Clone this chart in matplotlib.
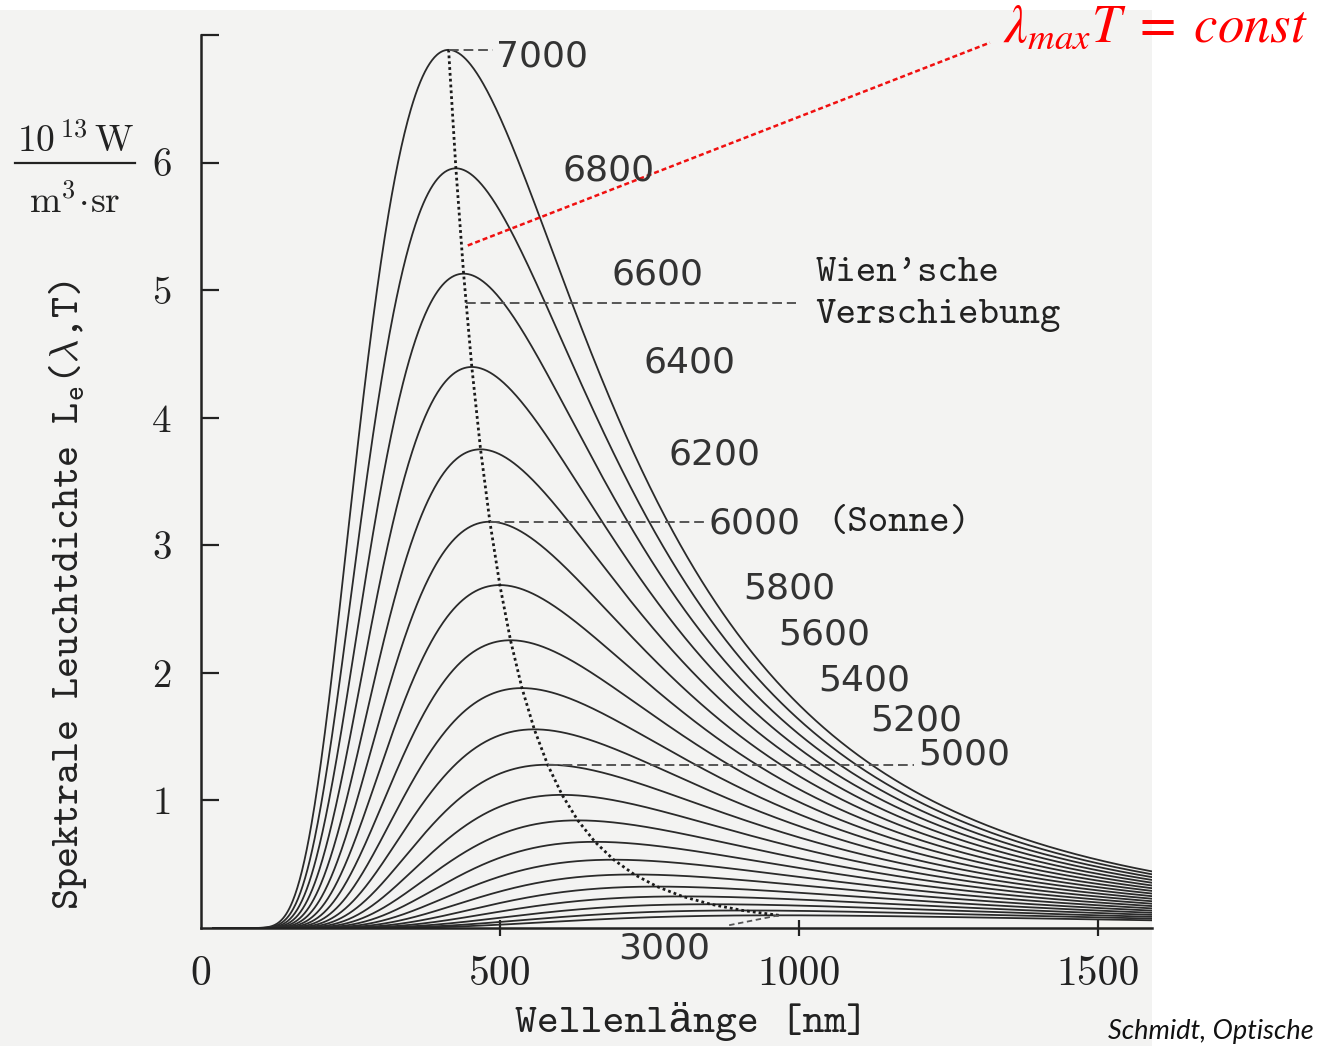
import numpy as np
import matplotlib.pyplot as plt
from matplotlib.patches import Rectangle
from matplotlib.lines import Line2D

# Temperaturen der Planck-Kurven [K]
temperaturen = [3000, 3200, 3400, 3600, 3800, 4000, 4200, 4400, 4600, 4800,
                5000, 5200, 5400, 5600, 5800, 6000, 6200, 6400, 6600, 6800, 7000]
# Kurven mit Beschriftung
beschriftet = [7000, 6800, 6600, 6400, 6200, 6000, 5800, 5600, 5400, 5200, 5000, 3000]
x_ticks = [0, 500, 1000, 1500]
x_ticklabels = ['0', '500', '1000', '1500']
y_ticks = [1, 2, 3, 4, 5, 6, 7]
y_ticklabels = ['1', '2', '3', '4', '5', '6', '']
wien_hoehe = 4.9      # Hoehe der Hinweislinie "Wien'sche Verschiebung"

# Lage der Beschriftungen (nm, 10^13 W/m^3 sr)
label_pos = {7000: (493, 6.83), 6800: (604, 5.94), 6600: (687, 5.12),
             6400: (739, 4.43), 6200: (781, 3.71), 6000: (848, 3.17),
             5800: (906, 2.66), 5600: (965, 2.30), 5400: (1032, 1.94),
             5200: (1119, 1.63), 5000: (1199, 1.36), 3000: (697, -0.16)}
# Kurven mit gestrichelter Hinweislinie zur Beschriftung
hinweis = {7000: 488, 6000: 842, 5000: 1192}

h = 6.62607e-34
c = 2.99792458e8
kB = 1.380649e-23
b_wien = 2.8978e6  # nm K


def planck(lam_nm, T):
    lam = lam_nm * 1e-9
    return 2 * h * c**2 / lam**5 / np.expm1(h * c / (lam * kB * T)) / 1e13


plt.rcParams['mathtext.fontset'] = 'cm'
tt = ['cmtt10', 'Liberation Mono']
kurve_farbe = '#2a2a2a'
W, H = 1326, 1046

fig = plt.figure(figsize=(W / 100, H / 100), dpi=100)
fig.patch.set_facecolor('white')
fig.add_artist(Rectangle((0, 0), 1152 / W, 1 - 10 / H, transform=fig.transFigure,
                         facecolor='#f3f3f2', edgecolor='none', zorder=0))

ax = fig.add_axes([201 / W, 1 - 928 / H, 951 / W, 893 / H])
ax.patch.set_alpha(0)

lam = np.linspace(20, 1600, 1200)
for T in temperaturen:
    ax.plot(lam, planck(lam, T), color=kurve_farbe, lw=1.3)

# Wien'sches Verschiebungsgesetz: Maxima aller Kurven
T_arr = np.array(temperaturen, dtype=float)
lam_max = b_wien / T_arr
L_max = planck(lam_max, T_arr)
ax.plot(lam_max, L_max, color='#1a1a1a', lw=2.0, linestyle=(0, (1, 1.1)))

# Beschriftungen der Kurven
for T in beschriftet:
    x, y = label_pos[T]
    ax.text(x, y, str(T), fontsize=26, color='#333333', ha='left', va='center',
            family='DejaVu Sans', clip_on=False)

for T, x_end in hinweis.items():
    lp = b_wien / T
    ax.plot([lp, x_end], [planck(lp, T)] * 2, color='#555555', lw=1.4,
            linestyle=(0, (5, 2.5)), clip_on=False)

# Hinweis fuer 3000 K
lp3 = b_wien / 3000
ax.plot([lp3, lp3 - 85], [planck(lp3, 3000), 0.02], color='#555555', lw=1.3,
        linestyle=(0, (3, 2)))

# Wien'sche Verschiebung
x_start = np.interp(wien_hoehe, L_max, lam_max)
ax.plot([x_start, 995], [wien_hoehe, wien_hoehe], color='#555555', lw=1.4,
        linestyle=(0, (5, 2.5)), clip_on=False)
ax.text(1027, 5.13, "Wien'sche", family=tt, fontsize=28, color='#222222',
        ha='left', va='center')
ax.text(1027, 4.80, "Verschiebung", family=tt, fontsize=28, color='#222222',
        ha='left', va='center')
ax.text(1048, 3.17, "(Sonne)", family=tt, fontsize=28, color='#222222',
        ha='left', va='center')

# Achsen
ax.set_xlim(0, 1590)
ax.set_ylim(0, 7)
for s in ['top', 'right']:
    ax.spines[s].set_visible(False)
for s in ['left', 'bottom']:
    ax.spines[s].set_linewidth(1.8)
    ax.spines[s].set_color('#222222')

ax.set_xticks(x_ticks)
ax.set_xticklabels(x_ticklabels, family='cmr10', fontsize=30, color='#222222')
ax.set_yticks(y_ticks)
ax.set_yticklabels(y_ticklabels, family='cmr10', fontsize=28, color='#222222')
ax.tick_params(axis='x', direction='inout', length=12, width=1.6, pad=14, color='#222222')
ax.tick_params(axis='y', direction='in', length=13, width=1.6, pad=21, color='#222222')
ax.xaxis.get_major_ticks()[0].tick1line.set_visible(False)

ax.set_xlabel('Wellenlänge [nm]', family=tt, fontsize=30, color='#222222')
ax.xaxis.set_label_coords(0.516, -0.105)
ax.xaxis.label.set_verticalalignment('center')

ax.set_ylabel(r'Spektrale Leuchtdichte L$_\mathtt{e}$($\lambda$,T)', family=tt,
              fontsize=29, color='#222222')
ax.yaxis.set_label_coords(-0.14, 0.373)
ax.yaxis.label.set_verticalalignment('center')

# Einheit als Bruch
fig.text(75 / W, 1 - 152 / H, r'$10^{\,13}\,\mathrm{W}$', fontsize=27,
         color='#222222', ha='center', va='baseline')
fig.add_artist(Line2D([15 / W, 135 / W], [1 - 163 / H] * 2, transform=fig.transFigure,
                      color='#222222', lw=1.6))
fig.text(75 / W, 1 - 213 / H, r'$\mathrm{m}^{3}\!\cdot\!\mathrm{sr}$', fontsize=27,
         color='#222222', ha='center', va='baseline')

# lambda_max T = const
ax.plot([446, 1319], [5.35, 6.94], color='#f01010', lw=1.8,
        linestyle=(0, (2, 1.2)), clip_on=False)
fig.text(1003 / W, 1 - 42 / H, r'$\lambda_{max}T\;=\;const$', color='#ff0000',
         fontsize=38, math_fontfamily='stix', ha='left', va='baseline')

fig.text(1108 / W, 1 - 1039 / H, 'Schmidt, Optische',
         family='Lato', style='italic', fontsize=19.5, color='#111111',
         ha='left', va='baseline')

fig.savefig('out.png', dpi=100, facecolor=fig.get_facecolor())
